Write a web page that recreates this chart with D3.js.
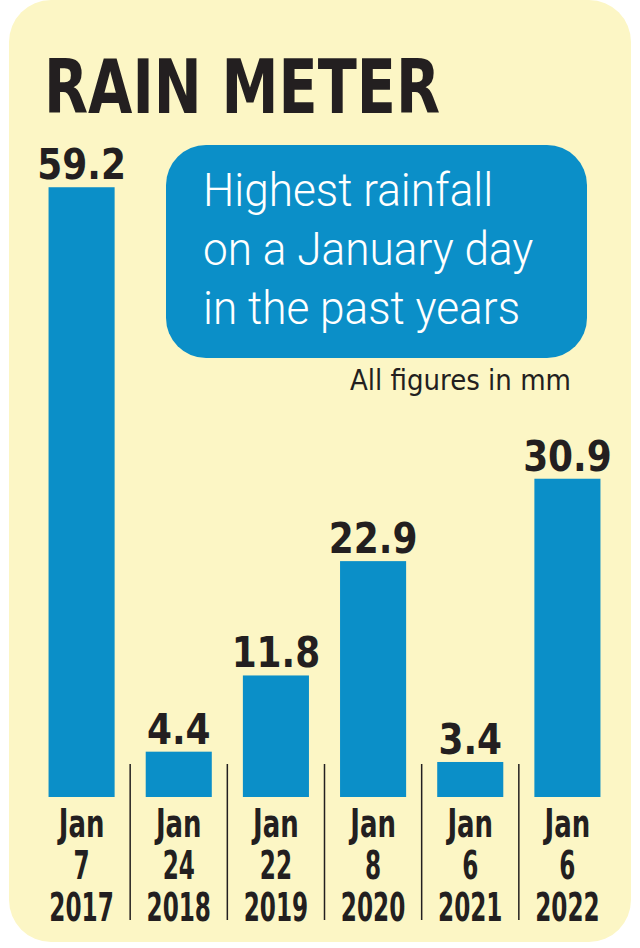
<!DOCTYPE html>
<meta charset="utf-8">
<head>
    <title>Rain Meter</title>
    <script src="https://d3js.org/d3.v7.min.js"></script>
</head>
<style type="text/css">
body {
    margin: 0;
    background: #ffffff;
}
text {
    font-family: "DejaVu Sans Condensed", "Liberation Sans", sans-serif;
}
.sub {
    font-family: "Roboto", "Open Sans", sans-serif;
    font-weight: 300;
}
</style>
<body>
    <svg id="chart" width="640" height="948"></svg>

    <script type="text/javascript">
        // data
        var values = [59.2, 4.4, 11.8, 22.9, 3.4, 30.9];
        var valueLabels = ["59.2", "4.4", "11.8", "22.9", "3.4", "30.9"];
        var months = ["Jan", "Jan", "Jan", "Jan", "Jan", "Jan"];
        var days = ["7", "24", "22", "8", "6", "6"];
        var years = ["2017", "2018", "2019", "2020", "2021", "2022"];
        var subtitleLines = ["Highest rainfall", "on a January day", "in the past years"];

        var ink = "#231f20",
            blue = "#0b8fc8",
            paper = "#fcf6c5";

        var svg = d3.select("#chart");

        // squeeze text horizontally by a factor (fonts here are wider than the original)
        function squeeze(sel, k) {
            sel.each(function() {
                var w = this.getComputedTextLength();
                d3.select(this)
                    .attr("textLength", w * k)
                    .attr("lengthAdjust", "spacingAndGlyphs");
            });
        }

        // panel
        svg.append("rect")
            .attr("x", 9).attr("y", 0)
            .attr("width", 622).attr("height", 942)
            .attr("rx", 42).attr("ry", 42)
            .attr("fill", paper);

        // title
        svg.append("text")
            .attr("x", 44).attr("y", 113)
            .attr("textLength", 396)
            .attr("lengthAdjust", "spacingAndGlyphs")
            .style("font-size", "74px")
            .style("font-weight", "bold")
            .attr("fill", ink)
            .text("RAIN METER");

        // scales
        var x = d3.scaleBand()
            .domain(d3.range(values.length))
            .range([33, 616])
            .paddingInner(0.32)
            .paddingOuter(0.16);
        var y = d3.scaleLinear().domain([0, 60]).range([797, 179]);
        var step = x.step(), bw = x.bandwidth();

        // separators between columns
        svg.selectAll(".sep")
            .data(d3.range(1, values.length))
            .enter().append("line")
            .attr("class", "sep")
            .attr("x1", function(i) { return x(i) - (step - bw) / 2; })
            .attr("x2", function(i) { return x(i) - (step - bw) / 2; })
            .attr("y1", 764).attr("y2", 920)
            .attr("stroke", ink)
            .attr("stroke-width", 1.5);

        // bars
        svg.selectAll(".bar")
            .data(values)
            .enter().append("rect")
            .attr("class", "bar")
            .attr("x", function(d, i) { return x(i); })
            .attr("y", function(d) { return y(d); })
            .attr("width", bw)
            .attr("height", function(d) { return y(0) - y(d); })
            .attr("fill", blue);

        // value labels
        svg.selectAll(".val")
            .data(values)
            .enter().append("text")
            .attr("class", "val")
            .attr("x", function(d, i) { return x(i) + bw / 2; })
            .attr("y", function(d) { return y(d) - 8; })
            .attr("text-anchor", "middle")
            .style("font-size", "42px")
            .style("font-weight", "bold")
            .attr("fill", ink)
            .text(function(d, i) { return valueLabels[i]; })
            .call(squeeze, 0.95);

        // date labels
        [months, days, years].forEach(function(row, r) {
            svg.selectAll(".lab" + r)
                .data(row)
                .enter().append("text")
                .attr("class", "lab" + r)
                .attr("x", function(d, i) { return x(i) + bw / 2; })
                .attr("y", 837 + r * 42)
                .attr("text-anchor", "middle")
                .style("font-size", "39px")
                .style("font-weight", "bold")
                .attr("fill", ink)
                .text(function(d) { return d; })
                .call(squeeze, r === 0 ? 0.74 : 0.66);
        });

        // subtitle box
        svg.append("rect")
            .attr("x", 166).attr("y", 145)
            .attr("width", 421).attr("height", 213)
            .attr("rx", 40).attr("ry", 40)
            .attr("fill", blue);

        svg.selectAll(".sub")
            .data(subtitleLines)
            .enter().append("text")
            .attr("class", "sub")
            .attr("x", 203)
            .attr("y", function(d, i) { return 206 + i * 59; })
            .style("font-size", "46px")
            .attr("fill", "#ffffff")
            .text(function(d) { return d; })
            .call(squeeze, 0.96);

        svg.append("text")
            .attr("x", 571).attr("y", 390)
            .attr("text-anchor", "end")
            .style("font-size", "29px")
            .attr("fill", ink)
            .text("All figures in mm");
    </script>
</body>
